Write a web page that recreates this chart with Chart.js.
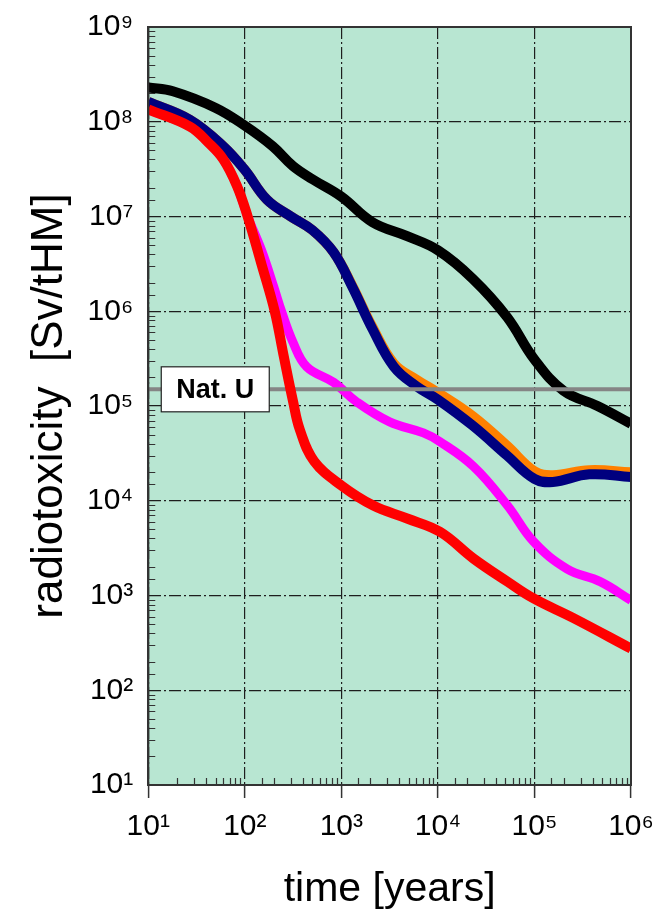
<!DOCTYPE html>
<html>
<head>
<meta charset="utf-8">
<script src="https://cdn.jsdelivr.net/npm/chart.js@4"></script>
<style>
    html, body { margin: 0; padding: 0; background: #fff; }
    #wrap { width: 667px; height: 910px; position: relative; }
</style>
</head>
<body>
<div id="wrap"><canvas id="toxChart"></canvas></div>
<script>
// values (time in years, radiotoxicity in Sv/tHM)
const blackYears  = [10, 18, 50, 100, 195, 316, 510, 1000, 2100, 4800, 10000, 23000, 52000, 100000, 200000, 450000, 1000000];
const blackValues = [2.3e8, 2.1e8, 1.4e8, 9.1e7, 5.5e7, 3.4e7, 2.45e7, 1.62e7, 8.7e6, 6.2e6, 4.4e6, 2.2e6, 8.7e5, 3.1e5, 1.45e5, 1.0e5, 6.5e4];

const blueYears  = [10, 27, 60, 100, 170, 300, 500, 830, 1300, 2100, 3500, 6000, 10000, 23000, 52000, 100000, 155000, 370000, 1000000];
const blueValues = [1.62e8, 1.05e8, 5.5e7, 3.1e7, 1.5e7, 1.0e7, 7.2e6, 4.2e6, 1.8e6, 6.5e5, 2.6e5, 1.62e5, 1.17e5, 6.2e4, 3.0e4, 1.7e4, 1.58e4, 1.9e4, 1.78e4];

const orangeYears  = [10, 27, 60, 100, 170, 300, 500, 830, 1300, 2100, 3500, 6000, 10000, 23000, 52000, 100000, 155000, 370000, 1000000];
const orangeValues = [1.62e8, 1.05e8, 5.5e7, 3.1e7, 1.5e7, 1.0e7, 7.2e6, 4.2e6, 1.85e6, 6.8e5, 2.8e5, 1.9e5, 1.38e5, 7.8e4, 3.8e4, 2.05e4, 1.86e4, 2.1e4, 2.0e4];

const redYears  = [10, 27, 42, 60, 83, 107, 148, 204, 251, 316, 372, 525, 1000, 2140, 4800, 10500, 23400, 52500, 98000, 251000, 1000000];
const redValues = [1.35e8, 8.9e7, 6.0e7, 4.0e7, 2.1e7, 1.0e7, 3.2e6, 1.0e6, 3.5e5, 1.12e5, 5.6e4, 2.6e4, 1.45e4, 8.9e3, 6.5e3, 4.7e3, 2.45e3, 1.4e3, 930, 580, 275];

const magentaYears  = [10, 27, 42, 60, 83, 107, 148, 200, 240, 316, 437, 830, 1450, 3160, 7080, 10500, 23400, 52500, 98000, 219000, 479000, 1000000];
const magentaValues = [1.35e8, 8.9e7, 6.0e7, 4.0e7, 2.1e7, 1.0e7, 4.5e6, 1.8e6, 1.0e6, 4.7e5, 2.6e5, 1.78e5, 1.1e5, 6.8e4, 5.2e4, 4.2e4, 2.3e4, 8.9e3, 3.7e3, 1.9e3, 1.4e3, 890];

const natUYears = [10, 1000000];
const natUValue = 1.5e5;
const natULabel = 'Nat. U';

// tick labels: 10 with a superscript exponent at each decade
const superscripts = ['⁰', '¹', '²', '³', '⁴', '⁵', '⁶', '⁷', '⁸', '⁹'];

function isDecade(v) {
    const e = Math.log10(v);
    return Math.abs(e - Math.round(e)) < 1e-6;
}
function decadeLabel(v) {
    if (!isDecade(v)) return '';
    return '10' + superscripts[Math.round(Math.log10(v))];
}
function points(xs, ys) {
    return xs.map((x, i) => ({ x: x, y: ys[i] }));
}

const fontName = '"Liberation Sans", Arial, sans-serif';

// green plot background
const plotBackground = {
    id: 'plotBackground',
    beforeDraw(chart) {
        const a = chart.chartArea, ctx = chart.ctx;
        ctx.save();
        ctx.fillStyle = '#b8e6d2';
        ctx.fillRect(a.left, a.top, a.right - a.left, a.bottom - a.top);
        ctx.restore();
    }
};

// small minor ticks inside the left and bottom edges
const innerTicks = {
    id: 'innerTicks',
    beforeDatasetsDraw(chart) {
        const a = chart.chartArea, ctx = chart.ctx;
        const xs = chart.scales.x, ys = chart.scales.y;
        ctx.save();
        ctx.strokeStyle = '#333';
        ctx.lineWidth = 1.2;
        ctx.beginPath();
        ys.ticks.forEach(t => {
            if (isDecade(t.value)) return;
            const y = Math.round(ys.getPixelForValue(t.value)) + 0.5;
            ctx.moveTo(a.left, y);
            ctx.lineTo(a.left + 7, y);
        });
        xs.ticks.forEach(t => {
            if (isDecade(t.value)) return;
            const x = Math.round(xs.getPixelForValue(t.value)) + 0.5;
            ctx.moveTo(x, a.bottom);
            ctx.lineTo(x, a.bottom - 7);
        });
        ctx.stroke();
        ctx.restore();
    }
};

// frame round the plot and the "Nat. U" box
const frameAndLabel = {
    id: 'frameAndLabel',
    afterDatasetsDraw(chart) {
        const a = chart.chartArea, ctx = chart.ctx;
        ctx.save();
        ctx.strokeStyle = '#333';
        ctx.lineWidth = 2;
        ctx.strokeRect(a.left, a.top, a.right - a.left, a.bottom - a.top);

        const yU = chart.scales.y.getPixelForValue(natUValue);
        const bx = a.left + 13, bw = 108, bh = 45;
        ctx.fillStyle = '#fff';
        ctx.fillRect(bx, yU - bh / 2, bw, bh);
        ctx.strokeStyle = '#222';
        ctx.lineWidth = 1.2;
        ctx.strokeRect(bx, yU - bh / 2, bw, bh);
        ctx.fillStyle = '#000';
        ctx.font = 'bold 27px ' + fontName;
        ctx.textAlign = 'center';
        ctx.textBaseline = 'middle';
        ctx.fillText(natULabel, bx + bw / 2, yU + 1);
        ctx.restore();
    }
};

function lineSet(label, data, color, width) {
    return {
        label: label,
        data: data,
        borderColor: color,
        backgroundColor: color,
        borderWidth: width,
        pointRadius: 0,
        fill: false,
        tension: 0.4,
        borderCapStyle: 'butt',
        borderJoinStyle: 'round'
    };
}

const gridDash = [12, 3, 2, 3];

new Chart(document.getElementById('toxChart').getContext('2d'), {
    type: 'line',
    data: {
        datasets: [
            // first dataset is drawn on top
            lineSet('red', points(redYears, redValues), '#ff0000', 10),
            lineSet('Nat. U', points(natUYears, [natUValue, natUValue]), '#858585', 4),
            lineSet('blue', points(blueYears, blueValues), '#00007f', 10),
            lineSet('orange', points(orangeYears, orangeValues), '#ff8000', 10),
            lineSet('magenta', points(magentaYears, magentaValues), '#ff00ff', 9),
            lineSet('black', points(blackYears, blackValues), '#000000', 10)
        ]
    },
    options: {
        responsive: true,
        maintainAspectRatio: false,
        animation: false,
        layout: { padding: { left: 20, right: 36, top: 27, bottom: 0 } },
        plugins: {
            legend: { display: false },
            tooltip: { enabled: false }
        },
        scales: {
            x: {
                type: 'logarithmic',
                min: 10,
                max: 1000000,
                border: { display: true, color: '#333', width: 2, dash: gridDash },
                grid: {
                    color: ctx => isDecade(ctx.tick.value) ? '#1e1e1e' : 'rgba(0,0,0,0)',
                    tickColor: ctx => isDecade(ctx.tick.value) ? '#333' : 'rgba(0,0,0,0)',
                    lineWidth: 1.2,
                    tickLength: 13,
                    tickWidth: 1.5
                },
                ticks: {
                    autoSkip: false,
                    maxRotation: 0,
                    minRotation: 0,
                    padding: 11,
                    color: '#000',
                    font: { family: fontName, size: 30 },
                    callback: v => decadeLabel(v)
                },
                title: {
                    display: true,
                    text: 'time [years]',
                    color: '#000',
                    font: { family: fontName, size: 41, lineHeight: 1.0 },
                    padding: { top: 13, bottom: 0 }
                }
            },
            y: {
                type: 'logarithmic',
                min: 10,
                max: 1000000000,
                border: { display: true, color: '#333', width: 2, dash: gridDash },
                grid: {
                    color: ctx => isDecade(ctx.tick.value) ? '#1e1e1e' : 'rgba(0,0,0,0)',
                    lineWidth: 1.2,
                    drawTicks: false
                },
                ticks: {
                    autoSkip: false,
                    padding: 15,
                    color: '#000',
                    font: { family: fontName, size: 30, lineHeight: 0.8 },
                    callback: v => decadeLabel(v)
                },
                title: {
                    display: true,
                    text: 'radiotoxicity  [Sv/tHM]',
                    color: '#000',
                    font: { family: fontName, size: 44, lineHeight: 1.0 },
                    padding: { top: 8, bottom: 0 }
                }
            }
        }
    },
    plugins: [plotBackground, innerTicks, frameAndLabel]
});
</script>
</body>
</html>
